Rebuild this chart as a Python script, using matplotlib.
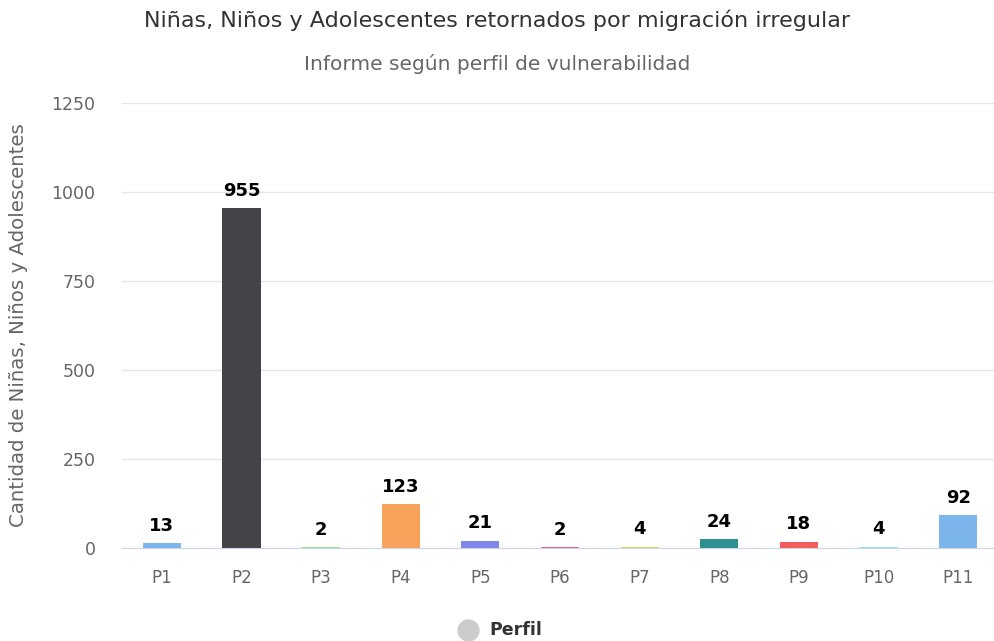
import matplotlib
matplotlib.use("Agg")
import matplotlib.pyplot as plt
from matplotlib.lines import Line2D

plt.rcParams['font.family'] = ['DejaVu Sans']

categories = ["P1", "P2", "P3", "P4", "P5", "P6", "P7", "P8", "P9", "P10", "P11"]
values = [13, 955, 2, 123, 21, 2, 4, 24, 18, 4, 92]
colors = ["#7cb5ec", "#434348", "#90ed7d", "#f7a35c", "#8085e9", "#f15c80",
          "#e4d354", "#2b908f", "#f45b5b", "#91e8e1", "#7cb5ec"]
yticks = [0, 250, 500, 750, 1000, 1250]

fig = plt.figure(figsize=(9.94, 6.41), dpi=100)
ax = fig.add_axes([122/994, 1-548/641, (998-122)/994, (548-103)/641])

x = list(range(len(categories)))
ax.bar(x, values, width=0.48, color=colors, zorder=3)
for xi, v in zip(x, values):
    ax.annotate(str(v), (xi, v), xytext=(0, 6), textcoords="offset points",
                ha="center", va="bottom", fontsize=13, fontweight="bold", color="#000000")

ax.set_xlim(-0.5, len(categories) - 0.5)
ax.set_ylim(0, 1250)
ax.set_yticks(yticks)
ax.set_xticks(x)
ax.set_xticklabels(categories)
ax.tick_params(axis="y", length=0, labelsize=12.5, labelcolor="#666666", pad=19)
ax.tick_params(axis="x", length=0, labelsize=12, labelcolor="#666666", pad=15)
ax.grid(axis="y", color="#e6e6e6", linewidth=1, zorder=0)
for s in ["top", "right", "left"]:
    ax.spines[s].set_visible(False)
ax.spines["bottom"].set_color("#ccd6eb")
ax.spines["bottom"].set_zorder(4)
ax.set_ylabel("Cantidad de Niñas, Niños y Adolescentes", fontsize=14.2, color="#666666")
ax.yaxis.set_label_coords(-(122-28)/876, 0.5)

fig.text(0.5, 1-20/641, "Niñas, Niños y Adolescentes retornados por migración irregular",
         ha="center", va="center", fontsize=16, color="#333333")
fig.text(0.5, 1-64/641, "Informe según perfil de vulnerabilidad",
         ha="center", va="center", fontsize=14.5, color="#666666")

fig.lines.append(Line2D([468/994], [1-630/641], marker="o", markersize=15,
                        color="#cccccc", transform=fig.transFigure))
fig.text(489/994, 1-630/641, "Perfil", ha="left", va="center", fontsize=12.5,
         fontweight="bold", color="#333333")

fig.savefig("out.png", dpi=100)
